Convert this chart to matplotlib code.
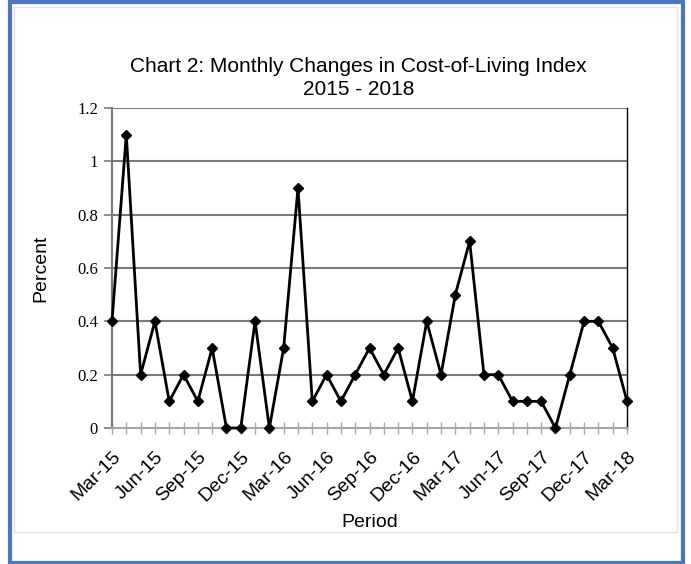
import matplotlib
matplotlib.use("Agg")
import matplotlib.pyplot as plt
import matplotlib.patches as patches
import numpy as np

# monthly changes, Mar-15 .. Mar-18
months = ["Mar-15", "Apr-15", "May-15", "Jun-15", "Jul-15", "Aug-15", "Sep-15",
          "Oct-15", "Nov-15", "Dec-15", "Jan-16", "Feb-16", "Mar-16", "Apr-16",
          "May-16", "Jun-16", "Jul-16", "Aug-16", "Sep-16", "Oct-16", "Nov-16",
          "Dec-16", "Jan-17", "Feb-17", "Mar-17", "Apr-17", "May-17", "Jun-17",
          "Jul-17", "Aug-17", "Sep-17", "Oct-17", "Nov-17", "Dec-17", "Jan-18",
          "Feb-18", "Mar-18"]
pct = [0.4, 1.1, 0.2, 0.4, 0.1, 0.2, 0.1, 0.3, 0.0, 0.0, 0.4, 0.0, 0.3, 0.9,
       0.1, 0.2, 0.1, 0.2, 0.3, 0.2, 0.3, 0.1, 0.4, 0.2, 0.5, 0.7, 0.2, 0.2,
       0.1, 0.1, 0.1, 0.0, 0.2, 0.4, 0.4, 0.3, 0.1]
yticks = [0, 0.2, 0.4, 0.6, 0.8, 1, 1.2]
ylabels = ["0", "0.2", "0.4", "0.6", "0.8", "1", "1.2"]

W, H = 691, 564
fig = plt.figure(figsize=(W / 100, H / 100), dpi=100)
fig.patch.set_facecolor("white")

# outer blue frame + light inner chart-area border
fig.add_artist(patches.Rectangle((9.5 / W, 1 - 563 / H), 673 / W, 561 / H,
                                 transform=fig.transFigure, fill=False,
                                 edgecolor="#4f74c0", linewidth=3))
fig.add_artist(patches.Rectangle((14 / W, 1 - 532 / H), 663 / W, 525 / H,
                                 transform=fig.transFigure, fill=False,
                                 edgecolor="#e2e2e2", linewidth=1))

left, right, top, bottom = 112, 627, 108, 428
ax = fig.add_axes([left / W, 1 - bottom / H, (right - left) / W, (bottom - top) / H])

x = np.arange(len(months))
ax.plot(x, pct, color="black", linewidth=2, marker="D", markersize=5,
        markerfacecolor="black", markeredgecolor="black", zorder=3, clip_on=False)

ax.set_xlim(0, len(months) - 1)
ax.set_ylim(0, 1.2)
ax.set_yticks(yticks)
ax.set_yticklabels(ylabels, family="Liberation Serif", fontsize=12)
for yv in yticks[1:]:
    ax.axhline(yv, color="#7a7a7a", linewidth=1.5, zorder=1)

ax.set_xticks(x[::3])
ax.set_xticklabels(months[::3], rotation=45, ha="right", va="top",
                   rotation_mode="anchor", family="Liberation Sans", fontsize=14)
ax.set_xticks(x, minor=True)
ax.tick_params(axis="x", which="both", direction="inout", length=9,
               color="#a6a6a6", width=1, pad=10)
ax.tick_params(axis="y", direction="out", length=6, color="#7a7a7a",
               width=1.2, pad=4)

ax.spines["left"].set_color("#7a7a7a")
ax.spines["left"].set_linewidth(1.5)
ax.spines["bottom"].set_color("#a6a6a6")
ax.spines["bottom"].set_linewidth(1.5)
ax.spines["top"].set_visible(False)
ax.spines["right"].set_color("black")
ax.spines["right"].set_linewidth(1)

ax.set_xlabel("Period", family="Liberation Sans", fontsize=14, labelpad=7)
ax.set_ylabel("Percent", family="Liberation Sans", fontsize=14, labelpad=20)

fig.text(358.5 / W, 1 - 78 / H,
         "Chart 2: Monthly Changes in Cost-of-Living Index\n2015 - 2018",
         ha="center", va="center", family="Liberation Sans", fontsize=15,
         linespacing=1.3)

plt.savefig("out.png", dpi=100, facecolor="white")
